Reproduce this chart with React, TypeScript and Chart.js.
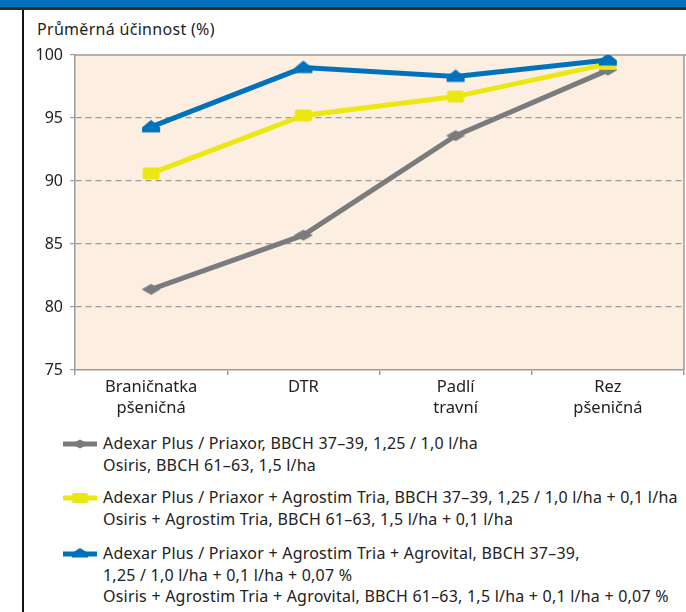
import React, { useEffect, useRef } from "react";
import { Chart, registerables } from "chart.js";

Chart.register(...registerables);

const categories: (string | string[])[] = [["Braničnatka", "pšeničná"], "DTR", ["Padlí", "travní"], ["Rez", "pšeničná"]];
const seriesGray = [81.4, 85.7, 93.6, 98.8];
const seriesYellow = [90.6, 95.2, 96.7, 99.3];
const seriesBlue = [94.3, 99.0, 98.3, 99.6];
const yMin = 75;
const yMax = 100;
const yStep = 5;
const yTitle = "Průměrná účinnost (%)";
const legendGray = ["Adexar Plus / Priaxor, BBCH 37–39, 1,25 / 1,0 l/ha", "Osiris, BBCH 61–63, 1,5 l/ha"];
const legendYellow = [
  "Adexar Plus / Priaxor + Agrostim Tria, BBCH 37–39, 1,25 / 1,0 l/ha + 0,1 l/ha",
  "Osiris + Agrostim Tria, BBCH 61–63, 1,5 l/ha + 0,1 l/ha",
];
const legendBlue = [
  "Adexar Plus / Priaxor + Agrostim Tria + Agrovital, BBCH 37–39,",
  "1,25 / 1,0 l/ha + 0,1 l/ha + 0,07 %",
  "Osiris + Agrostim Tria + Agrovital, BBCH 61–63, 1,5 l/ha + 0,1 l/ha + 0,07 %",
];

const GRAY = "#7a7b7d";
const YELLOW = "#ebe713";
const BLUE = "#0072bb";
const FONT = "'Noto Sans', sans-serif";

function makeMarker(kind: string, color: string): HTMLCanvasElement {
  const c = document.createElement("canvas");
  const w = 22, h = 16;
  c.width = w; c.height = h;
  const ctx = c.getContext("2d")!;
  ctx.fillStyle = color;
  ctx.beginPath();
  if (kind === "diamond") {
    ctx.moveTo(1.5, 8); ctx.lineTo(11, 2.5); ctx.lineTo(20.5, 8); ctx.lineTo(11, 13.5);
  } else if (kind === "rect") {
    const x = 2.5, y = 2, rw = 17, rh = 12, r = 2.5;
    ctx.moveTo(x + r, y); ctx.lineTo(x + rw - r, y); ctx.quadraticCurveTo(x + rw, y, x + rw, y + r);
    ctx.lineTo(x + rw, y + rh - r); ctx.quadraticCurveTo(x + rw, y + rh, x + rw - r, y + rh);
    ctx.lineTo(x + r, y + rh); ctx.quadraticCurveTo(x, y + rh, x, y + rh - r);
    ctx.lineTo(x, y + r); ctx.quadraticCurveTo(x, y, x + r, y);
  } else {
    ctx.moveTo(11, 1); ctx.lineTo(20, 8.5); ctx.lineTo(20, 13.5); ctx.lineTo(2, 13.5); ctx.lineTo(2, 8.5);
  }
  ctx.closePath();
  ctx.fill();
  return c;
}

const areaPlugin = {
  id: "areaPlugin",
  beforeDraw(chart: any) {
    const { ctx, chartArea: a } = chart;
    ctx.save();
    ctx.fillStyle = "#fcefe1";
    ctx.fillRect(a.left, a.top, a.right - a.left, a.bottom - a.top);
    ctx.restore();
  },
  beforeDatasetsDraw(chart: any) {
    const { ctx, chartArea: a } = chart;
    ctx.save();
    ctx.strokeStyle = "#9c9c9c";
    ctx.lineWidth = 1.5;
    ctx.setLineDash([]);
    ctx.beginPath();
    ctx.moveTo(a.left, a.top);
    ctx.lineTo(a.right + 2, a.top);
    ctx.moveTo(a.right, a.top);
    ctx.lineTo(a.right, a.bottom);
    ctx.stroke();
    ctx.restore();
  },
};

function LegendMarker({ kind, color }: { kind: string; color: string }) {
  let shape: React.ReactNode;
  if (kind === "diamond") shape = <polygon points="8,8 17,3.5 26,8 17,12.5" fill={color} />;
  else if (kind === "rect") shape = <rect x="9" y="3" width="16" height="10" rx="2" fill={color} />;
  else shape = <polygon points="17,2 25,7 25,11.5 9,11.5 9,7" fill={color} />;
  return (
    <svg width="34" height="16" style={{ position: "absolute", left: 63, top: 3 }}>
      <rect x="0" y="5.5" width="34" height="5" fill={color} />
      {shape}
    </svg>
  );
}

function LegendItem({ top, kind, color, lines }: { top: number; kind: string; color: string; lines: string[] }) {
  return (
    <div style={{ position: "absolute", left: 0, top, width: 686 }}>
      <LegendMarker kind={kind} color={color} />
      <div style={{ position: "absolute", left: 103, top: 0, font: `16px ${FONT}`, letterSpacing: "0.22px", lineHeight: "21.5px", color: "#222", whiteSpace: "nowrap" }}>
        {lines.map((l, i) => (
          <div key={i}>{l}</div>
        ))}
      </div>
    </div>
  );
}

export default function App() {
  const ref = useRef<HTMLCanvasElement>(null);
  useEffect(() => {
    if (!ref.current) return;
    const chart = new Chart(ref.current, {
      type: "line",
      data: {
        labels: categories,
        datasets: [
          { label: "blue", data: seriesBlue, borderColor: BLUE, backgroundColor: BLUE, borderWidth: 5, pointStyle: makeMarker("tri", BLUE) as any, pointRadius: 8 },
          { label: "yellow", data: seriesYellow, borderColor: YELLOW, backgroundColor: YELLOW, borderWidth: 5, pointStyle: makeMarker("rect", YELLOW) as any, pointRadius: 8 },
          { label: "gray", data: seriesGray, borderColor: GRAY, backgroundColor: GRAY, borderWidth: 5, pointStyle: makeMarker("diamond", GRAY) as any, pointRadius: 8 },
        ],
      },
      options: {
        responsive: false,
        animation: false,
        layout: { autoPadding: false, padding: { left: 0, right: 2, top: 45, bottom: 0 } },
        plugins: { legend: { display: false }, tooltip: { enabled: false }, title: { display: false } },
        scales: {
          x: {
            offset: true,
            grid: { offset: true, drawOnChartArea: false, tickLength: 5, color: "#9c9c9c", lineWidth: 1.5 },
            border: { color: "#9c9c9c", width: 1.5 },
            ticks: { color: "#222", font: { family: FONT, size: 16.5, lineHeight: 1.25 }, padding: 2, maxRotation: 0 },
            afterFit: (s: any) => { s.height = 60; },
          },
          y: {
            min: yMin,
            max: yMax,
            grid: {
              color: (c: any) => (c.tick && (c.tick.value === yMin || c.tick.value === yMax) ? "rgba(0,0,0,0)" : "#9c9c9c"),
              tickColor: "#9c9c9c",
              lineWidth: 1.2,
              tickLength: 5,
            },
            border: { color: "#9c9c9c", width: 1.5, dash: [6, 4] },
            ticks: { stepSize: yStep, color: "#222", font: { family: FONT, size: 16 }, padding: 7 },
            afterFit: (s: any) => { s.width = 51; },
          },
        },
      },
      plugins: [areaPlugin],
    });
    return () => chart.destroy();
  }, []);

  return (
    <div style={{ position: "absolute", left: 0, top: 0, width: 686, height: 612, background: "#fff", overflow: "hidden" }}>
      <div style={{ position: "absolute", left: 0, top: 0, width: 686, height: 7, background: BLUE }} />
      <div style={{ position: "absolute", left: 0, top: 7, width: 686, height: 3, background: "#2b2b2b" }} />
      <div style={{ position: "absolute", left: 22, top: 10, width: 2, height: 602, background: "#151515" }} />
      <div style={{ position: "absolute", left: 37, top: 18, font: `16px ${FONT}`, letterSpacing: "0.3px", color: "#222", lineHeight: "22px", whiteSpace: "nowrap" }}>{yTitle}</div>
      <canvas ref={ref} width={662} height={420} style={{ position: "absolute", left: 24, top: 10, width: 662, height: 420 }} />
      <LegendItem top={433} kind="diamond" color={GRAY} lines={legendGray} />
      <LegendItem top={487} kind="rect" color={YELLOW} lines={legendYellow} />
      <LegendItem top={543} kind="tri" color={BLUE} lines={legendBlue} />
    </div>
  );
}
